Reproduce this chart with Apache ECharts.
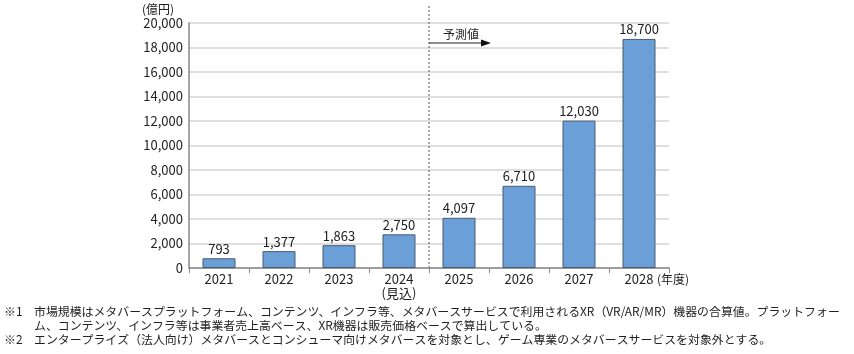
<!DOCTYPE html>
<html><head><meta charset="utf-8">
<script src="https://cdn.jsdelivr.net/npm/echarts@6/dist/echarts.min.js"></script>
<style>html,body{margin:0;padding:0;background:#fff}#c{width:854px;height:354px}</style>
</head><body><div id="c"></div>
<script>
const categories = ['2021','2022','2023','2024\n(見込)','2025','2026','2027','2028'];
const values = [793,1377,1863,2750,4097,6710,12030,18700];
const yTicks = {min:0,max:20000,interval:2000};
const unitLabel = '(億円)';
const xUnitLabel = '(年度)';
const forecastLabel = '予測値';
const notes = [
 ['※1','市場規模はメタバースプラットフォーム、コンテンツ、インフラ等、メタバースサービスで利用されるXR（VR/AR/MR）機器の合算値。プラットフォー'],
 ['','ム、コンテンツ、インフラ等は事業者売上高ベース、XR機器は販売価格ベースで算出している。'],
 ['※2','エンタープライズ（法人向け）メタバースとコンシューマ向けメタバースを対象とし、ゲーム専業のメタバースサービスを対象外とする。']
];
const FONT = '"Noto Sans CJK JP", "Noto Sans", sans-serif';
const chart = echarts.init(document.getElementById('c'));
const option = {
  animation:false,
  textStyle:{fontFamily:FONT},
  grid:{left:189,right:185,top:23,bottom:86,containLabel:false},
  xAxis:{type:'category',data:categories,
    axisLine:{lineStyle:{color:'#888',width:1.5}},
    axisTick:{show:true,alignWithLabel:false,length:5,lineStyle:{color:'#888'}},
    axisLabel:{color:'#222',fontSize:13,fontFamily:FONT,margin:4,lineHeight:14,interval:0}},
  yAxis:{type:'value',min:yTicks.min,max:yTicks.max,interval:yTicks.interval,
    axisLine:{show:true,lineStyle:{color:'#888',width:1.5}},
    axisTick:{show:false},
    splitLine:{lineStyle:{color:'#d4d4d4',width:1.5}},
    axisLabel:{color:'#222',fontSize:13,fontFamily:FONT,margin:6,
      formatter:v=>v.toLocaleString('en-US')}},
  series:[{type:'bar',data:values,barWidth:33,
    itemStyle:{color:'#6a9fd8',borderColor:'#4a5a70',borderWidth:1},
    label:{show:true,position:'top',distance:3,color:'#222',fontSize:13,fontFamily:FONT,
      formatter:p=>p.value.toLocaleString('en-US')}}]
};
chart.setOption(option);
const x24 = chart.convertToPixel({xAxisIndex:0}, categories[3]);
const x25 = chart.convertToPixel({xAxisIndex:0}, categories[4]);
const xd = (x24+x25)/2;
const y0 = chart.convertToPixel({yAxisIndex:0}, 0);
const g = [
  {type:'line',shape:{x1:xd,y1:6,x2:xd,y2:y0},style:{stroke:'#555',lineWidth:1,lineDash:[2,2]}},
  {type:'line',shape:{x1:xd,y1:43,x2:xd+55,y2:43},style:{stroke:'#222',lineWidth:1}},
  {type:'polygon',shape:{points:[[xd+52,39.5],[xd+62,43],[xd+52,46.5]]},style:{fill:'#111'}},
  {type:'text',style:{text:forecastLabel,x:xd+14,y:34,fontSize:12,fontFamily:FONT,fill:'#222',textVerticalAlign:'middle'}},
  {type:'text',style:{text:unitLabel,x:158,y:9,fontSize:12,fontFamily:FONT,fill:'#222',textAlign:'center',textVerticalAlign:'middle'}},
  {type:'text',style:{text:xUnitLabel,x:657,y:279,fontSize:12,fontFamily:FONT,fill:'#222',textVerticalAlign:'middle'}}
];
const ly = [311,325,339];
notes.forEach((n,i)=>{
  if(n[0]) g.push({type:'text',style:{text:n[0],x:4,y:ly[i],fontSize:11.9,fontFamily:FONT,fill:'#222',textVerticalAlign:'middle'}});
  g.push({type:'text',style:{text:n[1],x:34,y:ly[i],fontSize:11.9,fontFamily:FONT,fill:'#222',textVerticalAlign:'middle'}});
});
chart.setOption({graphic:g});
</script></body></html>
